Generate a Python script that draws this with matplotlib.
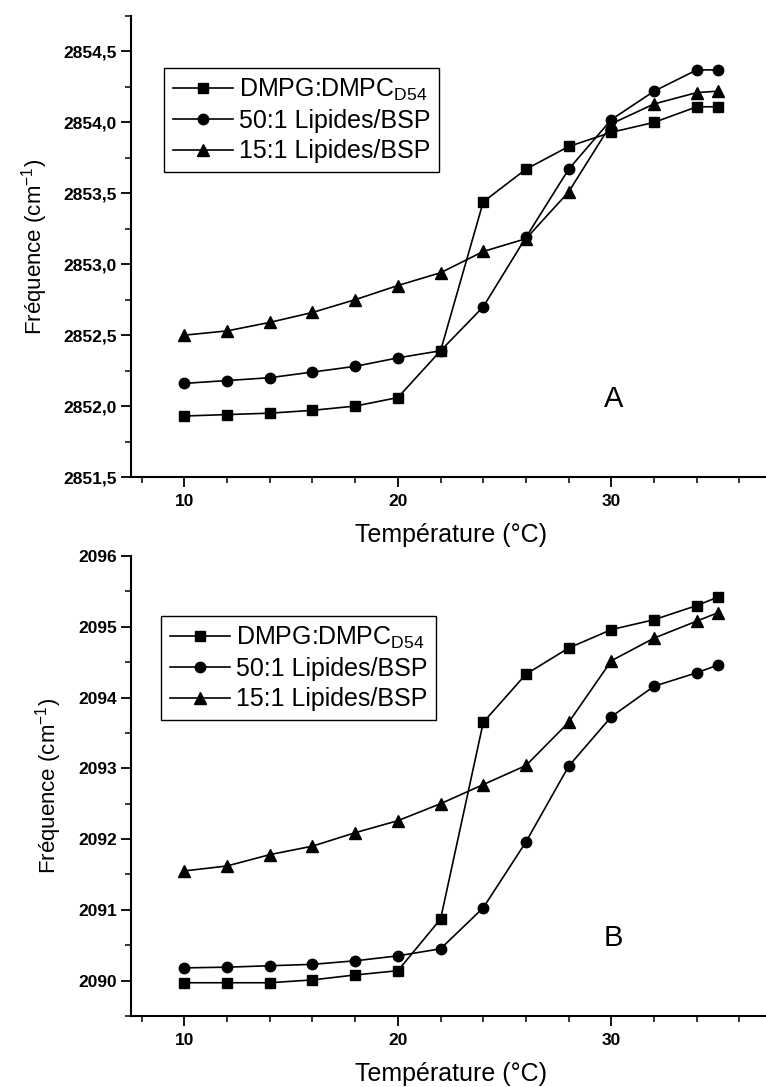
import matplotlib
matplotlib.use("Agg")
import matplotlib.pyplot as plt
from matplotlib.ticker import MultipleLocator, FuncFormatter

plt.rcParams['font.family'] = ['Liberation Sans', 'DejaVu Sans']
plt.rcParams['mathtext.default'] = 'regular'

temp = [10, 12, 14, 16, 18, 20, 22, 24, 26, 28, 30, 32, 34, 35]

# panel A (CH2)
a_dmpg = [2851.93, 2851.94, 2851.95, 2851.97, 2852.00, 2852.06, 2852.39,
          2853.44, 2853.67, 2853.83, 2853.93, 2854.00, 2854.11, 2854.11]
a_50 = [2852.16, 2852.18, 2852.20, 2852.24, 2852.28, 2852.34, 2852.39,
        2852.70, 2853.19, 2853.67, 2854.02, 2854.22, 2854.37, 2854.37]
a_15 = [2852.50, 2852.53, 2852.59, 2852.66, 2852.75, 2852.85, 2852.94,
        2853.09, 2853.18, 2853.51, 2853.99, 2854.13, 2854.21, 2854.22]

# panel B (CD2)
b_dmpg = [2089.97, 2089.97, 2089.97, 2090.01, 2090.08, 2090.14, 2090.87,
          2093.65, 2094.33, 2094.70, 2094.96, 2095.10, 2095.30, 2095.42]
b_50 = [2090.18, 2090.19, 2090.21, 2090.23, 2090.28, 2090.35, 2090.45,
        2091.03, 2091.96, 2093.03, 2093.73, 2094.16, 2094.35, 2094.46]
b_15 = [2091.55, 2091.62, 2091.78, 2091.90, 2092.09, 2092.26, 2092.50,
        2092.77, 2093.04, 2093.65, 2094.52, 2094.84, 2095.08, 2095.20]

labels = ["DMPG:DMPC$_{D54}$", "50:1 Lipides/BSP", "15:1 Lipides/BSP"]
markers = ['s', 'o', '^']
msizes = [7.5, 7.5, 8.5]

fig = plt.figure(figsize=(7.66, 10.87), dpi=100)
W = 30 * 21.35 / 766
axA = fig.add_axes([131 / 766, 1 - 477 / 1087, W, 461 / 1087])
axB = fig.add_axes([131 / 766, 1 - 1016 / 1087, W, 460 / 1087])


def comma(v, pos, dec):
    s = ("%." + str(dec) + "f") % v
    return s.replace('.', ',')


def setup(ax, series, ylim, ymaj, ymin, dec, leg_xy, letter, letter_y):
    for ys, lab, m, ms in zip(series, labels, markers, msizes):
        ax.plot(temp, ys, color='black', lw=1.2, marker=m, ms=ms,
                mfc='black', mec='black', label=lab)
    ax.set_xlim(7.5, 37.5)
    ax.set_ylim(*ylim)
    for s in ['top', 'right']:
        ax.spines[s].set_visible(False)
    for s in ['left', 'bottom']:
        ax.spines[s].set_linewidth(1.5)
    ax.xaxis.set_major_locator(MultipleLocator(10))
    ax.xaxis.set_minor_locator(MultipleLocator(2))
    ax.yaxis.set_major_locator(MultipleLocator(ymaj))
    ax.yaxis.set_minor_locator(MultipleLocator(ymin))
    ax.yaxis.set_major_formatter(FuncFormatter(lambda v, p: comma(v, p, dec)))
    ax.tick_params(which='major', length=7, width=1.3, direction='out',
                   labelsize=12.5, pad=3)
    ax.tick_params(axis='x', which='major', pad=5)
    ax.tick_params(which='minor', length=4, width=1.1, direction='out')
    for t in ax.get_xticklabels() + ax.get_yticklabels():
        t.set_fontweight('bold')
    ax.set_xlabel("Température (°C)", fontsize=18, labelpad=10)
    ax.set_ylabel("Fréquence (cm$^{-1}$)", fontsize=16, labelpad=10)
    leg = ax.legend(loc='upper left', bbox_to_anchor=leg_xy,
                    bbox_transform=fig.transFigure, borderaxespad=0,
                    fontsize=18, handlelength=2.4, handletextpad=0.25,
                    labelspacing=0.25, borderpad=0.35, fancybox=False,
                    framealpha=1, edgecolor='black')
    leg.get_frame().set_linewidth(1.0)
    ax.text(30.1, letter_y, letter, fontsize=21, ha='center', va='center')


setup(axA, [a_dmpg, a_50, a_15], (2851.5, 2854.75), 0.5, 0.25, 1,
      (164 / 766, 1 - 68 / 1087), "A", 2852.05)
setup(axB, [b_dmpg, b_50, b_15], (2089.5, 2096), 1, 0.5, 0,
      (161 / 766, 1 - 616 / 1087), "B", 2090.6)

fig.savefig("out.png", dpi=100)
